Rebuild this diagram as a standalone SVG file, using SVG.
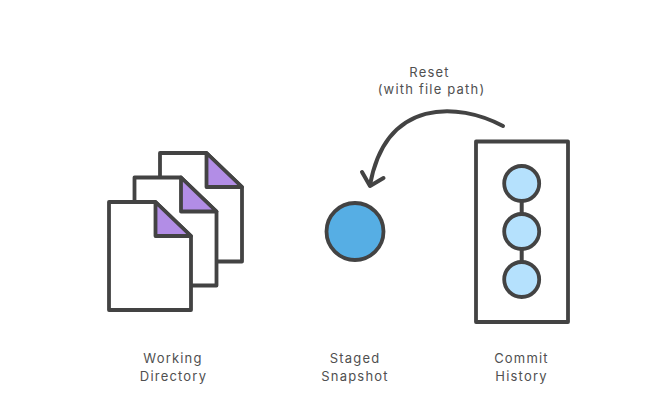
<svg xmlns="http://www.w3.org/2000/svg" width="659" height="401" viewBox="0 0 659 401">
<style>
.l{fill:none;stroke:#434343;stroke-width:4;stroke-linecap:round;stroke-linejoin:round}
.p{fill:#fff;stroke:#434343;stroke-width:3.800;stroke-linejoin:round}
.f{fill:#b28de6;stroke:#434343;stroke-width:3.800;stroke-linejoin:round}
.c{fill:#b5e1fd;stroke:#434343;stroke-width:3.800}
text{font-family:"Inter","Liberation Sans",sans-serif;font-size:13px;letter-spacing:1.200px;fill:#505050;text-anchor:middle}
</style>
<rect width="659" height="401" fill="#fff"/>
<g id="doc-back">
<path class="p" d="M160 153H206.500L242 187V261.500H160Z"/>
<path class="f" d="M206.500 153L242 187H206.500Z"/>
</g>
<g id="doc-middle">
<path class="p" d="M134.500 177.500H181L216.500 211.500V285.500H134.500Z"/>
<path class="f" d="M181 177.500L216.500 211.500H181Z"/>
</g>
<g id="doc-front">
<path class="p" d="M109 202H155.500L191 236V310H109Z"/>
<path class="f" d="M155.500 202L191 236H155.500Z"/>
</g>
<g id="staged-snapshot">
<circle cx="355" cy="231.500" r="28.500" fill="#56aee4" stroke="#434343" stroke-width="3.800"/>
</g>
<g id="commit-history">
<rect class="p" x="476" y="141.500" width="92" height="180.500"/>
<path class="l" d="M521.700 200V262" style="stroke-linecap:butt"/>
<circle class="c" cx="521.700" cy="183.500" r="17.500"/>
<circle class="c" cx="521.700" cy="231.500" r="17.500"/>
<circle class="c" cx="521.700" cy="279.500" r="17.500"/>
</g>
<g id="connectors">
<path class="l" d="M503 126C458 102 386 98 370 185"/>
<path class="l" d="M362 172L370 186L383.500 178"/>
</g>
<g id="labels">
<text x="429.500" y="77">Reset</text>
<text x="431.500" y="94">(with file path)</text>
<text x="173" y="363">Working</text>
<text x="173.500" y="381">Directory</text>
<text x="355" y="363">Staged</text>
<text x="355" y="381">Snapshot</text>
<text x="521.500" y="363">Commit</text>
<text x="521.500" y="381">History</text>
</g>
</svg>
